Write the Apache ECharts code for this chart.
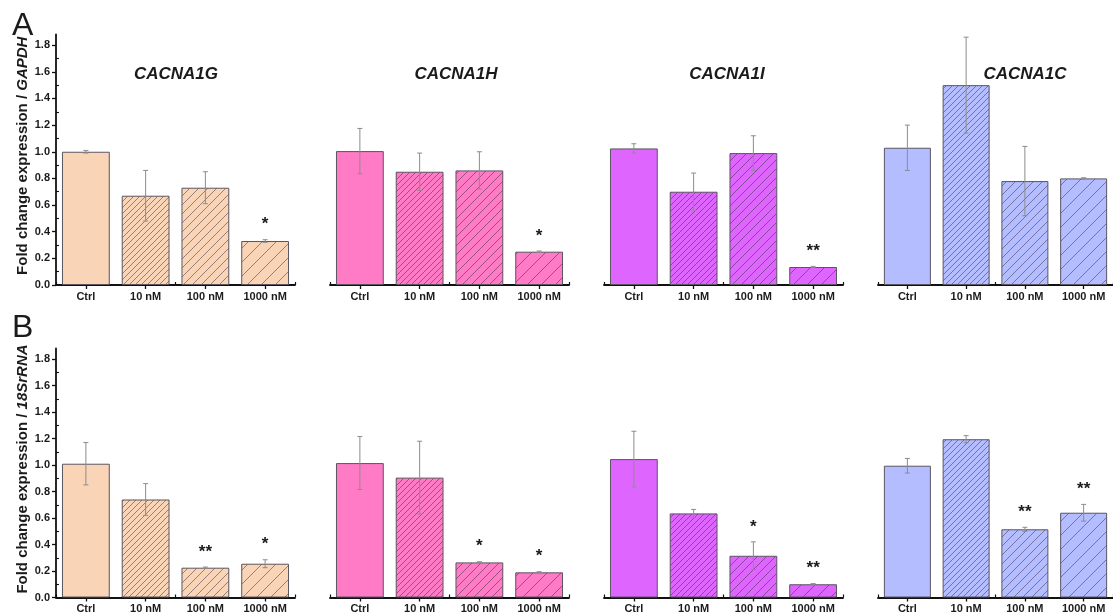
<!DOCTYPE html>
<html>
<head>
<meta charset="utf-8">
<script src="https://cdn.jsdelivr.net/npm/echarts@6/dist/echarts.min.js"></script>
<style>
  html, body { margin: 0; padding: 0; background: #fff; }
  #chart { width: 1113px; height: 616px; }
</style>
</head>
<body>
<div id="chart"></div>
<script>
// Treatment groups and genes
const categories = ['Ctrl', '10 nM', '100 nM', '1000 nM'];
const genes = ['CACNA1G', 'CACNA1H', 'CACNA1I', 'CACNA1C'];
const yTicks = [0, 0.2, 0.4, 0.6, 0.8, 1.0, 1.2, 1.4, 1.6, 1.8];
const yMinorTicks = [0.1, 0.3, 0.5, 0.7, 0.9, 1.1, 1.3, 1.5, 1.7];

// Panel A: normalised to GAPDH (mean, SD, significance)
const meanA_G = [1.00, 0.67, 0.73, 0.33];
const errA_G  = [0.01, 0.19, 0.12, 0.01];
const sigA_G  = ['', '', '', '*'];
const meanA_H = [1.005, 0.85, 0.86, 0.25];
const errA_H  = [0.17, 0.14, 0.14, 0.005];
const sigA_H  = ['', '', '', '*'];
const meanA_I = [1.025, 0.70, 0.99, 0.135];
const errA_I  = [0.035, 0.14, 0.13, 0.005];
const sigA_I  = ['', '', '', '**'];
const meanA_C = [1.03, 1.50, 0.78, 0.80];
const errA_C  = [0.17, 0.36, 0.26, 0.005];
const sigA_C  = ['', '', '', ''];

// Panel B: normalised to 18S rRNA
const meanB_G = [1.01, 0.74, 0.225, 0.255];
const errB_G  = [0.16, 0.12, 0.005, 0.03];
const sigB_G  = ['', '', '**', '*'];
const meanB_H = [1.015, 0.905, 0.265, 0.19];
const errB_H  = [0.20, 0.275, 0.005, 0.005];
const sigB_H  = ['', '', '*', '*'];
const meanB_I = [1.045, 0.635, 0.315, 0.10];
const errB_I  = [0.21, 0.03, 0.105, 0.005];
const sigB_I  = ['', '', '*', '**'];
const meanB_C = [0.995, 1.195, 0.515, 0.64];
const errB_C  = [0.055, 0.027, 0.015, 0.063];
const sigB_C  = ['', '', '**', '**'];

const FONT = '"Liberation Sans", Arial, sans-serif';
const TEXT = '#1b1b1b';
const Y_MAX = 1.88;

const geneColors = ['#F9D4B6', '#FF7BC6', '#DE66FF', '#B3BDFF'];
const hatchSteps = [0, 6, 9, 14];

const rows = [
  { means: [meanA_G, meanA_H, meanA_I, meanA_C], errs: [errA_G, errA_H, errA_I, errA_C],
    sigs: [sigA_G, sigA_H, sigA_I, sigA_C], ref: 'GAPDH', top: 34.5, height: 250.5, letter: 'A', letterY: 27 },
  { means: [meanB_G, meanB_H, meanB_I, meanB_C], errs: [errB_G, errB_H, errB_I, errB_C],
    sigs: [sigB_G, sigB_H, sigB_I, sigB_C], ref: '18SrRNA', top: 348.5, height: 249, letter: 'B', letterY: 329 }
];
const colLeft = [56, 330, 604, 878];
const colWidth = 239;
const titleCenters = [171, 451, 722, 1020];

// Diagonal hatch fill built on a small repeating canvas tile
function hatch(fill, step) {
  const c = document.createElement('canvas');
  c.width = step; c.height = step;
  const ctx = c.getContext('2d');
  ctx.fillStyle = fill;
  ctx.fillRect(0, 0, step, step);
  ctx.strokeStyle = 'rgba(55,40,55,0.5)';
  ctx.lineWidth = 1;
  ctx.beginPath();
  for (const k of [0, step, 2 * step]) {
    ctx.moveTo(-1, k + 1);
    ctx.lineTo(k + 1, -1);
  }
  ctx.stroke();
  return { image: c, repeat: 'repeat' };
}

function errorRenderer(sigList) {
  return function (params, api) {
    const x = api.value(0), m = api.value(1), e = api.value(2);
    const top = api.coord([x, m + e]);
    const bot = api.coord([x, m - e]);
    const cap = 2.5;
    const st = { stroke: '#8c8c8c', lineWidth: 1 };
    const children = [
      { type: 'line', shape: { x1: top[0], y1: top[1], x2: bot[0], y2: bot[1] }, style: st },
      { type: 'line', shape: { x1: top[0] - cap, y1: top[1], x2: top[0] + cap, y2: top[1] }, style: st },
      { type: 'line', shape: { x1: bot[0] - cap, y1: bot[1], x2: bot[0] + cap, y2: bot[1] }, style: st }
    ];
    const s = sigList[params.dataIndex];
    if (s) {
      children.push({
        type: 'text', x: top[0], y: top[1] - 15,
        style: { text: s, fill: TEXT, fontSize: 17, fontWeight: 'bold', fontFamily: FONT,
                 align: 'center', verticalAlign: 'middle' }
      });
    }
    return { type: 'group', children };
  };
}

const grid = [], xAxis = [], yAxis = [], series = [], title = [], graphic = [];

rows.forEach((row, r) => {
  graphic.push({
    type: 'text', left: 12, top: row.letterY - 17,
    style: { text: row.letter, fontSize: 32, fontFamily: FONT, fill: TEXT }
  });
  for (let c = 0; c < 4; c++) {
    const g = grid.length;
    grid.push({ left: colLeft[c], top: row.top, width: colWidth, height: row.height, containLabel: false });

    const xMain = xAxis.length;
    xAxis.push({
      type: 'category', gridIndex: g, data: categories, position: 'bottom',
      axisLine: { show: true, lineStyle: { color: '#111', width: 1.8 } },
      axisTick: { show: true, alignWithLabel: true, length: 4, lineStyle: { color: '#111', width: 1.3 } },
      axisLabel: { color: TEXT, fontSize: 11, fontWeight: 'bold', fontFamily: FONT, margin: 6 },
      splitLine: { show: false }
    });
    xAxis.push({
      type: 'category', gridIndex: g, data: categories, position: 'bottom',
      axisLine: { show: false },
      axisTick: { show: true, inside: true, length: 3, lineStyle: { color: '#111', width: 1.2 } },
      axisLabel: { show: false }, splitLine: { show: false }
    });

    const yMain = yAxis.length;
    if (c === 0) {
      yAxis.push({
        type: 'value', gridIndex: g, min: 0, max: Y_MAX, position: 'left',
        name: '{a|Fold change expression / }{b|' + row.ref + '}',
        nameLocation: 'middle', nameGap: 26,
        nameTextStyle: {
          color: TEXT, fontSize: 15, fontWeight: 'bold', fontFamily: FONT, padding: [0, 0, 0, 8],
          rich: {
            a: { fontSize: 15, fontWeight: 'bold', fontFamily: FONT, color: TEXT },
            b: { fontSize: 15, fontWeight: 'bold', fontStyle: 'italic', fontFamily: FONT, color: TEXT }
          }
        },
        axisLine: { show: true, lineStyle: { color: '#111', width: 1.8 } },
        axisTick: { show: true, length: 4, customValues: yTicks, lineStyle: { color: '#111', width: 1.3 } },
        axisLabel: { color: TEXT, fontSize: 11, fontWeight: 'bold', fontFamily: FONT, margin: 6,
                     customValues: yTicks, formatter: v => v.toFixed(1) },
        splitLine: { show: false }
      });
      yAxis.push({
        type: 'value', gridIndex: g, min: 0, max: Y_MAX, position: 'left',
        axisLine: { show: false },
        axisTick: { show: true, inside: true, length: 3, customValues: yMinorTicks, lineStyle: { color: '#111', width: 1.1 } },
        axisLabel: { show: false }, splitLine: { show: false }
      });
    } else {
      yAxis.push({ type: 'value', gridIndex: g, min: 0, max: Y_MAX, show: false, splitLine: { show: false } });
    }

    const means = row.means[c], errs = row.errs[c], sigs = row.sigs[c];
    series.push({
      type: 'bar', xAxisIndex: xMain, yAxisIndex: yMain, barWidth: '80%',
      data: means.map((v, i) => ({
        value: v,
        itemStyle: { color: i === 0 ? geneColors[c] : hatch(geneColors[c], hatchSteps[i]) }
      })),
      itemStyle: { borderColor: '#5b5560', borderWidth: 1 },
      silent: true, animation: false
    });
    series.push({
      type: 'custom', xAxisIndex: xMain, yAxisIndex: yMain, z: 5,
      data: means.map((v, i) => [i, v, errs[i]]),
      renderItem: errorRenderer(sigs), silent: true, animation: false
    });

    if (r === 0) {
      title.push({
        text: genes[c], left: titleCenters[c], top: 61, textAlign: 'center',
        textStyle: { fontSize: 17, fontWeight: 'bold', fontStyle: 'italic', fontFamily: FONT, color: TEXT }
      });
    }
  }
});

const chart = echarts.init(document.getElementById('chart'), null, { renderer: 'canvas' });
chart.setOption({
  backgroundColor: '#fff',
  animation: false,
  title, grid, xAxis, yAxis, series, graphic
});
</script>
</body>
</html>
